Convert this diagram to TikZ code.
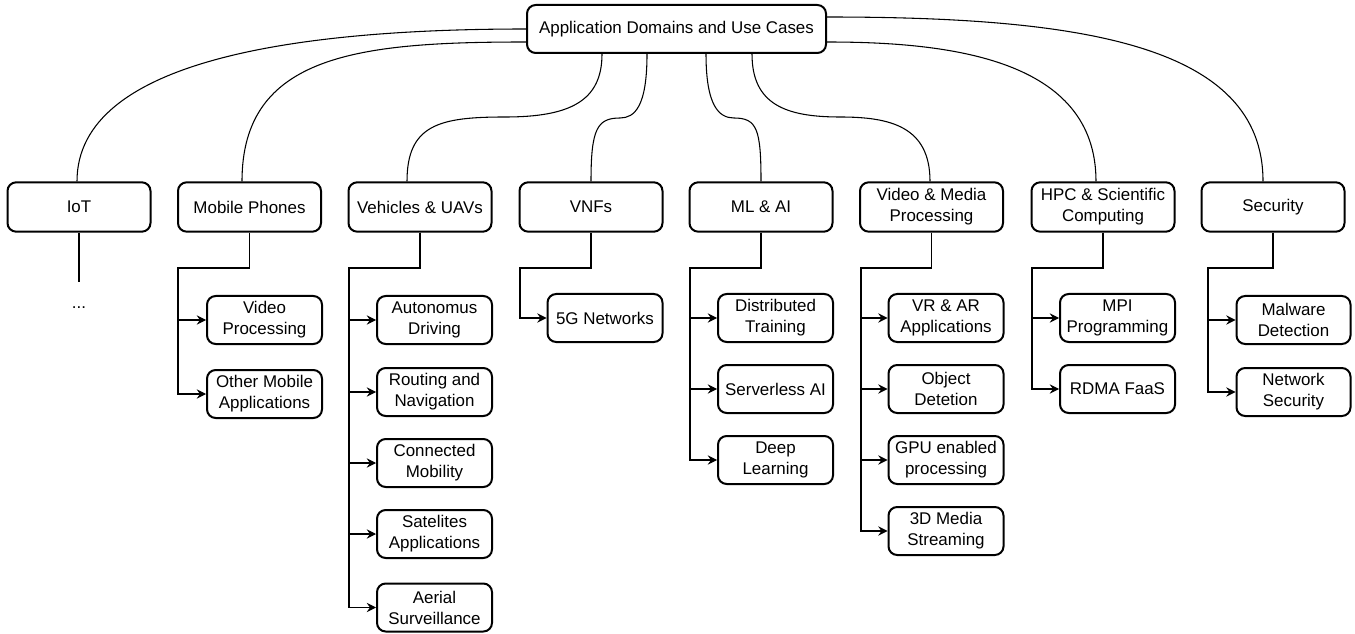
\documentclass[tikz,border=0pt]{standalone}
\usepackage{fontspec}
\setmainfont{Liberation Sans}
\usetikzlibrary{arrows.meta,calc}
\begin{document}
\begin{tikzpicture}[x=0.75pt,y=-0.75pt,
  box/.style={draw,line width=1.5pt,rounded corners=6.5pt,fill=white,align=center,inner sep=0pt,font=\fontsize{12.7}{15.75}\selectfont},
  topbox/.style={box,minimum width=107.25pt,minimum height=37pt},
  leaf/.style={box,minimum width=86.25pt,minimum height=36pt},
  link/.style={line width=0.8pt},
  arr/.style={link,-{Stealth[length=7pt,width=7pt,inset=2.5pt]}}]
\useasboundingbox (0,0) rectangle (1355,634);

% root
\node[box,minimum width=224.25pt,minimum height=36pt] (root) at (676.5,29) {Application Domains and Use Cases};

% level 1
\node[topbox] (iot) at (79,207) {IoT};
\node[topbox] (mob) at (249.5,207) {Mobile Phones};
\node[topbox] (veh) at (420,207) {Vehicles \& UAVs};
\node[topbox] (vnf) at (591,207) {VNFs};
\node[topbox] (ml) at (761,207) {ML \& AI};
\node[topbox] (vid) at (931.5,207) {Video \& Media\\Processing};
\node[topbox] (hpc) at (1103,207) {HPC \& Scientific\\Computing};
\node[topbox] (sec) at (1273,207) {Security};

% leaves
\node[leaf] (vp) at (264.5,320) {Video\\Processing};
\node[leaf] (oma) at (264.5,394) {Other Mobile\\Applications};

\node[leaf] (ad) at (434.5,320) {Autonomus\\Driving};
\node[leaf] (rn) at (434.5,392) {Routing and\\Navigation};
\node[leaf] (cm) at (434.5,463) {Connected\\Mobility};
\node[leaf] (sa) at (434.5,534) {Satelites\\Applications};
\node[leaf] (as) at (434.5,607.5) {Aerial\\Surveillance};

\node[leaf] (g5) at (605,318) {5G Networks};

\node[leaf] (dt) at (775.5,318) {Distributed\\Training};
\node[leaf] (sai) at (775.5,389) {Serverless AI};
\node[leaf] (dl) at (775.5,460) {Deep\\Learning};

\node[leaf] (vr) at (946,318) {VR \& AR\\Applications};
\node[leaf] (od) at (946,389) {Object\\Detetion};
\node[leaf] (gpu) at (946,460) {GPU enabled\\processing};
\node[leaf] (md) at (946,531) {3D Media\\Streaming};

\node[leaf] (mpi) at (1117.5,318) {MPI\\Programming};
\node[leaf] (rdma) at (1117.5,389) {RDMA FaaS};

\node[leaf,minimum width=85.5pt] (mal) at (1293.5,320) {Malware\\Detection};
\node[leaf,minimum width=85.5pt] (ns) at (1293.5,392) {Network\\Security};

\node[font=\fontsize{12.7}{15.75}\selectfont] (dots) at (79,308) {...};

% curves from root
\draw[link] (root.west) .. controls +(-227,0) and +(0,-122) .. ($(iot.north)+(-2,0)$);
\draw[link] ($(root.west)+(0,13)$) .. controls +(-167,0) and +(0,-127) .. ($(mob.north)+(-7.5,0)$);
\draw[link] ($(root.east)+(0,-12)$) .. controls +(254,0) and +(0,-137) .. ($(sec.north)+(-10,0)$);
\draw[link] ($(root.east)+(0,13)$) .. controls +(124,0) and +(0,-122) .. ($(hpc.north)+(-7,0)$);

\coordinate (mVeh) at (505,117);
\coordinate (mVnf) at (620,118);
\coordinate (mMl) at (734,118);
\coordinate (mVid) at (840,117);
\draw[link] ($(root.south)+(-74.5,0)$) .. controls +(0,47) and +(65,0) .. (mVeh)
  .. controls +(-65,0) and +(0,-57) .. ($(veh.north)+(-13,0)$);
\draw[link] ($(root.south)+(-29.5,0)$) .. controls +(0,52) and +(15,0) .. (mVnf)
  .. controls +(-23,0) and +(0,-52) .. (vnf.north);
\draw[link] ($(root.south)+(29.5,0)$) .. controls +(0,52) and +(-15,0) .. (mMl)
  .. controls +(23,0) and +(0,-52) .. (ml.north);
\draw[link] ($(root.south)+(75.5,0)$) .. controls +(0,50) and +(-55,0) .. (mVid)
  .. controls +(50,0) and +(0,-55) .. ($(vid.north)+(-1.5,0)$);

% IoT
\coordinate (iotE) at (79,282);
\draw[link] (iot.south) -- (iotE);

% elbows
\coordinate (mobE) at (178,268);
\coordinate (vehE) at (349,268);
\coordinate (vnfE) at (520,268);
\coordinate (mlE) at (690,268);
\coordinate (vidE) at (861,268);
\coordinate (hpcE) at (1032,268);
\coordinate (secE) at (1208,268);

\foreach \p/\e/\c in {mob/mobE/vp, mob/mobE/oma,
  veh/vehE/ad, veh/vehE/rn, veh/vehE/cm, veh/vehE/sa, veh/vehE/as,
  vnf/vnfE/g5,
  ml/mlE/dt, ml/mlE/sai, ml/mlE/dl,
  vid/vidE/vr, vid/vidE/od, vid/vidE/gpu, vid/vidE/md,
  hpc/hpcE/mpi, hpc/hpcE/rdma,
  sec/secE/mal, sec/secE/ns}
  \draw[arr] (\p.south) |- (\e) |- (\c.west);
\end{tikzpicture}
\end{document}
